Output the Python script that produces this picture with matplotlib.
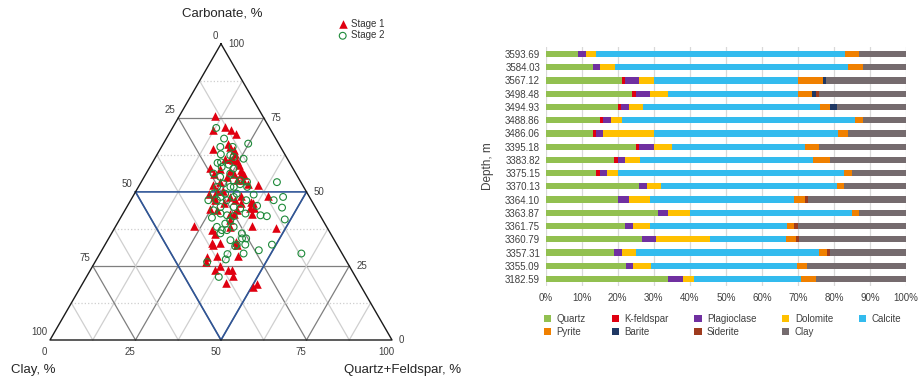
import matplotlib.pyplot as plt
import numpy as np

plt.rcParams['font.family'] = ['Liberation Sans', 'DejaVu Sans']

# ---- ternary data, percent (carbonate, clay, quartz+feldspar)
stage1_carb = [75.5, 70.8, 71.9, 70.8, 69.4, 64.6, 66.3, 65.2, 64.3, 62.7, 60.9, 60.4, 59.0, 58.2, 56.0,
               57.1, 56.0, 53.9, 52.6, 52.5, 48.5, 49.4, 50.3, 50.3, 48.5, 46.5, 44.7, 42.5, 44.3, 42.7,
               38.4, 37.1, 35.7, 38.0, 38.4, 37.9, 32.6, 32.2, 33.1, 28.1, 28.3, 28.3, 26.4, 23.6, 25.1,
               23.8, 21.6, 19.4, 17.8, 18.9, 61.2, 61.2, 57.3, 55.6, 53.9, 53.4, 48.3, 48.3, 46.1, 44.4,
               46.1, 43.8, 42.7, 43.8, 47.2, 46.1, 47.2, 40.4, 32.8, 32.0, 23.6, 57.9, 55.1, 52.2, 56.2]
stage1_clay = [14.0, 16.8, 12.8, 11.7, 10.9, 19.9, 14.7, 14.7, 14.1, 14.5, 15.9, 15.0, 15.3, 24.1, 24.0,
               18.8, 16.2, 16.7, 15.7, 12.8, 11.9, 28.7, 26.1, 24.3, 19.9, 18.0, 18.1, 19.7, 31.0, 24.8,
               38.8, 34.0, 33.9, 28.3, 21.8, 15.1, 34.1, 36.1, 29.2, 40.1, 36.9, 31.0, 41.1, 39.9, 37.7,
               36.0, 35.7, 38.8, 31.6, 29.9, 16.7, 18.2, 15.5, 15.6, 18.4, 23.5, 28.0, 23.2, 21.1, 19.3,
               17.5, 29.3, 26.0, 23.5, 28.1, 26.2, 22.3, 27.1, 36.3, 29.4, 35.0, 21.2, 20.8, 26.1, 18.2]
stage1_qf = [10.5, 12.4, 15.3, 17.5, 19.7, 15.5, 19.0, 20.1, 21.6, 22.8, 23.2, 24.6, 25.7, 17.7, 20.0,
             24.1, 27.8, 29.4, 31.7, 34.7, 39.6, 21.9, 23.6, 25.4, 31.6, 35.5, 37.2, 37.8, 24.7, 32.5,
             22.8, 28.9, 30.4, 33.7, 39.8, 47.0, 33.3, 31.7, 37.7, 31.8, 34.8, 40.7, 32.5, 36.5, 37.2,
             40.2, 42.7, 41.8, 50.6, 51.2, 22.1, 20.6, 27.2, 28.8, 27.7, 23.1, 23.7, 28.5, 32.8, 36.3,
             36.4, 26.9, 31.3, 32.7, 24.7, 27.7, 30.5, 32.5, 30.9, 38.6, 41.4, 20.9, 24.1, 21.7, 25.6]

stage2_carb = [71.6, 68.0, 66.3, 65.2, 65.2, 62.7, 62.4, 61.2, 59.8, 60.0, 59.2, 56.2, 55.1, 53.9, 53.4,
               53.3, 52.6, 51.7, 49.4, 47.2, 48.3, 47.2, 48.3, 49.1, 47.2, 47.2, 48.3, 44.7, 45.3, 41.8,
               40.7, 42.1, 42.7, 41.8, 41.3, 42.7, 40.4, 38.2, 37.1, 37.1, 38.2, 33.7, 34.3, 34.3, 32.2,
               32.2, 32.2, 30.3, 29.2, 29.0, 27.2, 29.2, 26.3, 21.3, 31.7, 58.4, 57.9, 52.8, 51.7, 47.2,
               49.4, 49.4, 44.9, 44.9, 44.4, 43.8, 51.7, 51.7, 39.3, 36.0, 56.2, 53.9, 61.8, 36.0, 42.1]
stage2_clay = [15.6, 15.1, 8.9, 17.6, 14.0, 18.7, 16.1, 12.8, 21.1, 20.0, 18.1, 19.2, 22.7, 19.4, 15.7,
               7.0, 18.1, 25.3, 27.5, 30.1, 26.0, 24.7, 22.1, 15.9, 19.0, 11.0, 7.7, 9.8, 16.8, 15.7,
               11.0, 17.4, 21.5, 25.4, 32.0, 28.8, 27.1, 32.1, 31.2, 29.7, 27.2, 30.4, 26.7, 25.5, 26.8,
               29.3, 19.0, 23.8, 28.8, 33.6, 35.0, 11.9, 40.9, 40.0, 30.0, 20.6, 17.4, 22.9, 21.4, 27.6,
               24.1, 20.7, 23.8, 27.7, 22.2, 30.3, 20.4, 16.5, 29.1, 32.2, 24.1, 17.4, 15.4, 25.9, 27.2]
stage2_qf = [12.8, 16.9, 24.8, 17.2, 20.8, 18.6, 21.5, 26.0, 19.1, 20.0, 22.7, 24.6, 22.2, 26.7, 30.9,
             39.7, 29.3, 23.0, 23.1, 22.7, 25.7, 28.1, 29.6, 35.0, 33.8, 41.8, 44.0, 45.5, 37.9, 42.5,
             48.3, 40.5, 35.8, 32.8, 26.7, 28.5, 32.5, 29.7, 31.7, 33.2, 34.6, 35.9, 39.0, 40.2, 41.0,
             38.5, 48.8, 45.9, 42.0, 37.4, 37.8, 58.9, 32.8, 38.7, 38.3, 21.0, 24.7, 24.3, 26.9, 25.2,
             26.5, 29.9, 31.3, 27.4, 33.4, 25.9, 27.9, 31.8, 31.6, 31.8, 19.7, 28.7, 22.8, 38.1, 30.7]

# ---- mineral composition by depth, percent (top to bottom)
depths = ['3593.69', '3584.03', '3567.12', '3498.48', '3494.93', '3488.86', '3486.06', '3395.18', '3383.82',
          '3375.15', '3370.13', '3364.10', '3363.87', '3361.75', '3360.79', '3357.31', '3355.09', '3182.59']
quartz = [9.0, 13.1, 21.2, 24.0, 20.1, 15.1, 13.1, 25.1, 19.0, 14.0, 25.9, 20.1, 31.2, 22.0, 26.7, 19.0, 22.3, 34.0]
kfeldspar = [0, 0, 0.8, 1.1, 0.8, 0.8, 0.9, 0.8, 1.1, 1.1, 0, 0, 0, 0, 0, 0, 0, 0]
plagioclase = [2.2, 2.0, 3.9, 3.9, 2.2, 2.2, 1.9, 4.2, 1.9, 1.9, 2.2, 3.0, 2.8, 2.2, 3.9, 2.2, 1.9, 4.1]
dolomite = [2.8, 4.1, 4.1, 5.0, 3.9, 3.1, 14.2, 5.0, 4.2, 3.1, 3.9, 5.9, 6.1, 4.8, 15.0, 3.9, 5.0, 3.1]
calcite = [69.1, 64.7, 39.9, 36.0, 49.1, 64.6, 51.0, 36.9, 48.1, 62.7, 48.9, 39.9, 44.9, 38.1, 21.0, 50.8, 40.6, 29.7]
pyrite = [3.9, 4.2, 7.1, 3.9, 2.8, 2.3, 2.8, 3.9, 4.6, 2.2, 1.9, 3.1, 2.0, 1.8, 2.9, 2.1, 2.8, 4.1]
barite = [0, 0, 0.8, 1.1, 2.0, 0, 0, 0, 0, 0, 0, 0, 0, 0, 0, 0, 0, 0]
siderite = [0, 0, 0, 0.9, 0, 0, 0, 0, 0, 0, 0, 0.8, 0, 1.1, 0.8, 0.9, 0, 0]
clay = [13.0, 11.9, 22.2, 24.1, 19.1, 11.9, 16.1, 24.1, 21.1, 15.0, 17.2, 27.2, 13.0, 30.0, 29.7, 21.1, 27.4, 25.0]

mineral_names = ['Quartz', 'K-feldspar', 'Plagioclase', 'Dolomite', 'Calcite', 'Pyrite', 'Barite', 'Siderite', 'Clay']
mineral_colors = ['#92C050', '#E00010', '#7030A0', '#FFC000', '#33BBEE', '#F08000', '#203864', '#9E3B1E', '#756B6E']
mineral_values = [quartz, kfeldspar, plagioclase, dolomite, calcite, pyrite, barite, siderite, clay]

SQ = np.sqrt(3) / 2


def tern(carb, cl, qf):
    carb, cl, qf = np.asarray(carb, float), np.asarray(cl, float), np.asarray(qf, float)
    tot = carb + cl + qf
    c, q = carb / tot, qf / tot
    return q + c / 2, c * SQ


fig = plt.figure(figsize=(9.21, 3.84), dpi=100)

# ---------------- ternary diagram
S = 342.0  # px per unit
ax = fig.add_axes([0, 0, 460 / 921, 1])
ax.set_xlim(-50 / S, 410 / S)
ax.set_ylim((340 - 384) / S, 340 / S)
ax.set_aspect('equal')
ax.axis('off')

levels = [0.125, 0.25, 0.375, 0.5, 0.625, 0.75, 0.875]
for v in levels:
    major = v in (0.25, 0.5, 0.75)
    col = '#7F7F7F' if major else '#CFCFCF'
    # carbonate = const (horizontal)
    if v != 0.5:
        x0, y0 = tern(v, 1 - v, 0)
        x1, y1 = tern(v, 0, 1 - v)
        ax.plot([x0, x1], [y0, y1], color=col, lw=0.9, ls='-' if major else ':', zorder=1)
    # qf = const
    x0, y0 = tern(0, 1 - v, v)
    x1, y1 = tern(1 - v, 0, v)
    ax.plot([x0, x1], [y0, y1], color=col, lw=0.9, zorder=1)
    # clay = const
    x0, y0 = tern(0, v, 1 - v)
    x1, y1 = tern(1 - v, v, 0)
    ax.plot([x0, x1], [y0, y1], color=col, lw=0.9, zorder=1)

# blue classification lines
bx, by = tern([50, 50, 0, 50], [50, 0, 50, 50], [0, 50, 50, 0])
ax.plot(bx, by, color='#2F5597', lw=1.2, zorder=2)

# outer triangle
tx, ty = tern([100, 0, 0, 100], [0, 100, 0, 0], [0, 0, 100, 0])
ax.plot(tx, ty, color='#1A1A1A', lw=1.0, zorder=3)

tick_vals = [0, 25, 50, 75, 100]
tk = dict(fontsize=7, color='#404040', textcoords='offset points')
for v in tick_vals:
    # clay scale on the left edge
    x, y = tern(100 - v, v, 0)
    ax.annotate(str(v), (x, y), xytext=(-2, 2), ha='right', va='bottom', **tk)
    # carbonate scale on the right edge
    x, y = tern(v, 0, 100 - v)
    ax.annotate(str(v), (x, y), xytext=(5, 0), ha='left', va='center', **tk)
    # quartz+feldspar scale on the bottom
    x, y = tern(0, 100 - v, v)
    ax.annotate(str(v), (x, y), xytext=(-4, -5), ha='center', va='top', **tk)

ax.text(222 / 921, 1 - 14 / 384, 'Carbonate, %', transform=fig.transFigure, ha='center', va='center',
        fontsize=9.5, color='#262626')
ax.text(33 / 921, 1 - 370 / 384, 'Clay, %', transform=fig.transFigure, ha='center', va='center',
        fontsize=9.5, color='#262626')
ax.text(403 / 921, 1 - 370 / 384, 'Quartz+Feldspar, %', transform=fig.transFigure, ha='center', va='center',
        fontsize=9.5, color='#262626')

x1, y1 = tern(stage1_carb, stage1_clay, stage1_qf)
x2, y2 = tern(stage2_carb, stage2_clay, stage2_qf)
ax.scatter(x1, y1, marker='^', s=38, color='#E00010', linewidths=0, zorder=4, label='Stage 1')
ax.scatter(x2, y2, marker='o', s=24, facecolors='none', edgecolors='#1E8A3A', linewidths=0.8, zorder=5,
           label='Stage 2')
ax.legend(loc='upper left', bbox_to_anchor=(332 / 921, 1 - 14 / 384), bbox_transform=fig.transFigure,
          frameon=False, fontsize=7, handletextpad=0.3, labelspacing=0.15, borderpad=0, handlelength=1.2,
          labelcolor='#333333')

# ---------------- stacked bars
bx0, bx1 = 545.7, 906.0
top, bot = 47.4, 285.6
ax2 = fig.add_axes([bx0 / 921, 1 - bot / 384, (bx1 - bx0) / 921, (bot - top) / 384])
ypos = np.arange(len(depths))
left = np.zeros(len(depths))
handles = []
for name, col, vals in zip(mineral_names, mineral_colors, mineral_values):
    vals = np.asarray(vals, float)
    h = ax2.barh(ypos, vals, left=left, height=0.47, color=col, label=name, zorder=3)
    handles.append(h)
    left += vals
ax2.set_ylim(len(depths) - 0.5, -0.5)
ax2.set_xlim(0, 100)
ax2.set_xticks(np.arange(0, 101, 10))
ax2.set_xticklabels([f'{v}%' for v in range(0, 101, 10)])
ax2.set_yticks(ypos)
ax2.set_yticklabels(depths)
ax2.tick_params(length=0, labelsize=7, colors='#404040')
ax2.tick_params(axis='x', pad=5)
ax2.tick_params(axis='y', pad=4)
ax2.grid(axis='x', color='#D9D9D9', lw=0.9, zorder=0)
for sp in ax2.spines.values():
    sp.set_visible(False)
ax2.set_ylabel('Depth, m', fontsize=8.5, color='#404040', labelpad=8)

# legend in row-major order
order = [0, 5, 1, 6, 2, 7, 3, 8, 4]
fig.legend([handles[i] for i in order], [mineral_names[i] for i in order], ncol=5,
           loc='upper left', bbox_to_anchor=(539 / 921, 1 - 309 / 384), frameon=False, fontsize=7,
           handlelength=0.75, handleheight=0.75, handletextpad=0.55, columnspacing=2.65,
           labelspacing=0.35, borderpad=0, labelcolor='#404040')

fig.savefig('out.png', dpi=100)
